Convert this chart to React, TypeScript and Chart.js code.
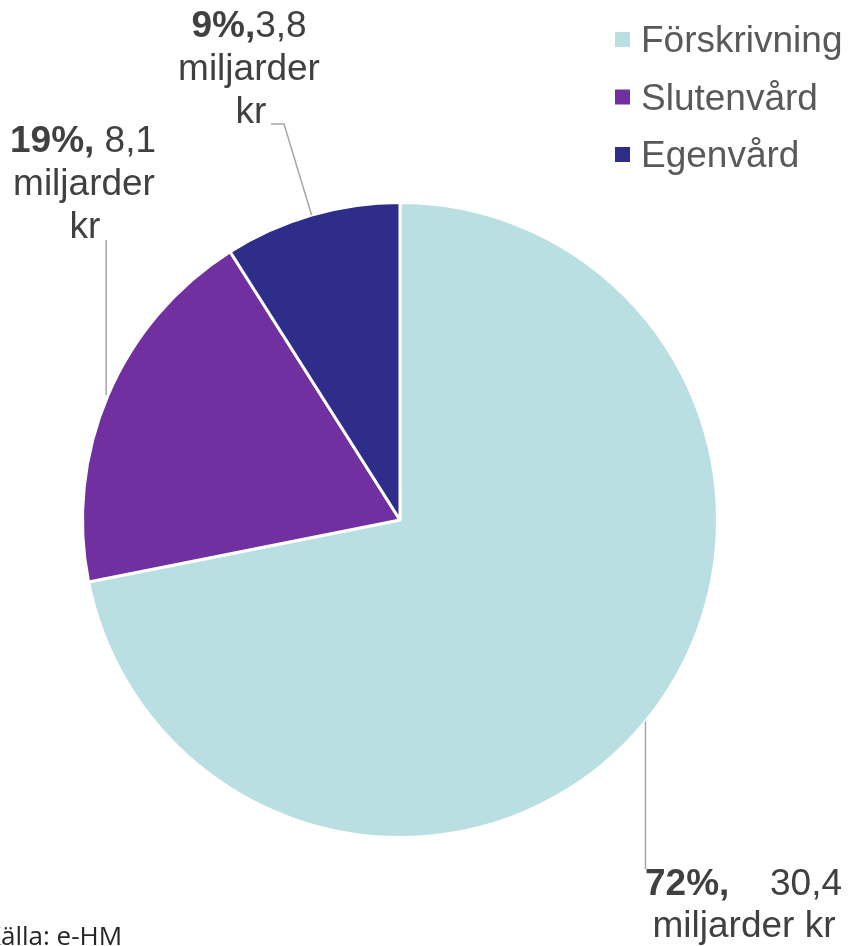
import React, { useEffect, useRef } from "react";
import { Chart, registerables } from "chart.js";

Chart.register(...registerables);

const categories = ["Förskrivning", "Slutenvård", "Egenvård"];
const valuesBn = [30.4, 8.1, 3.8];
const percents = [72, 19, 9];
const colors = ["#B9DFE2", "#7030A0", "#2E2E8A"];
const unitText = "miljarder kr";
const sourceText = "Källa: e-HM";

const FONT = 'Arial, "Liberation Sans", sans-serif';
const LABEL_COLOR = "#404040";
const LEGEND_COLOR = "#595959";
const LEADER_COLOR = "#A6A6A6";

const fmt = (v: number) => v.toFixed(1).replace(".", ",");

const overlayPlugin = {
  id: "overlay",
  afterDraw(chart: any) {
    const ctx: CanvasRenderingContext2D = chart.ctx;
    const meta = chart.getDatasetMeta(0);
    ctx.save();

    // Legend
    const legendBase = [52, 109.5, 167];
    ctx.font = `37px ${FONT}`;
    ctx.textBaseline = "alphabetic";
    ctx.textAlign = "left";
    categories.forEach((c, i) => {
      ctx.fillStyle = colors[i];
      ctx.fillRect(615, legendBase[i] - 20, 15, 15);
      ctx.fillStyle = LEGEND_COLOR;
      ctx.fillText(c, 641, legendBase[i]);
    });

    const edge = (i: number) => {
      const a: any = meta.data[i];
      const mid = (a.startAngle + a.endAngle) / 2;
      return { x: a.x + Math.cos(mid) * a.outerRadius, y: a.y + Math.sin(mid) * a.outerRadius };
    };

    ctx.strokeStyle = LEADER_COLOR;
    ctx.lineWidth = 1.5;
    let p = edge(0);
    ctx.beginPath();
    ctx.moveTo(p.x, p.y);
    ctx.lineTo(p.x, 869);
    ctx.stroke();
    p = edge(1);
    ctx.beginPath();
    ctx.moveTo(p.x - 2, p.y);
    ctx.lineTo(p.x - 2, 240);
    ctx.stroke();
    p = edge(2);
    ctx.beginPath();
    ctx.moveTo(p.x, p.y);
    ctx.lineTo(284, 124);
    ctx.lineTo(271, 124);
    ctx.stroke();

    const bold = `bold 37px ${FONT}`;
    const reg = `37px ${FONT}`;
    ctx.fillStyle = LABEL_COLOR;

    const centeredFirst = (b: string, r: string, cx: number, y: number) => {
      ctx.font = bold;
      const wb = ctx.measureText(b).width;
      ctx.font = reg;
      const wr = ctx.measureText(r).width;
      const x0 = cx - (wb + wr) / 2;
      ctx.textAlign = "left";
      ctx.font = bold;
      ctx.fillText(b, x0, y);
      ctx.font = reg;
      ctx.fillText(r, x0 + wb, y);
    };
    const words = unitText.split(" ");

    centeredFirst(`${percents[2]}%,`, fmt(valuesBn[2]), 249, 37);
    ctx.font = reg;
    ctx.textAlign = "center";
    ctx.fillText(words[0], 249, 80);
    ctx.fillText(words[1], 251, 123);

    centeredFirst(`${percents[1]}%,`, " " + fmt(valuesBn[1]), 83, 152);
    ctx.font = reg;
    ctx.textAlign = "center";
    ctx.fillText(words[0], 84, 195);
    ctx.fillText(words[1], 85, 238);

    ctx.font = bold;
    ctx.textAlign = "left";
    ctx.fillText(`${percents[0]}%,`, 645, 895);
    ctx.font = reg;
    ctx.textAlign = "right";
    ctx.fillText(fmt(valuesBn[0]), 842, 895);
    ctx.textAlign = "center";
    ctx.fillText(unitText, 744, 937);

    ctx.font = `26px "Open Sans", "Noto Sans", sans-serif`;
    ctx.textAlign = "left";
    ctx.fillStyle = "#262626";
    const kw = ctx.measureText("K").width;
    ctx.fillText(sourceText, -kw + 1, 945);

    ctx.restore();
  },
};

export default function App() {
  const ref = useRef<HTMLCanvasElement | null>(null);
  useEffect(() => {
    if (!ref.current) return;
    const chart = new Chart(ref.current, {
      type: "pie",
      data: {
        labels: categories,
        datasets: [
          {
            data: valuesBn,
            backgroundColor: colors,
            borderColor: "#ffffff",
            borderWidth: 3,
          },
        ],
      },
      options: {
        responsive: false,
        animation: false,
        devicePixelRatio: 1,
        layout: { padding: { left: 81, right: 129, top: 201, bottom: 107 } },
        plugins: {
          legend: { display: false },
          tooltip: { enabled: false },
        },
      },
      plugins: [overlayPlugin],
    });
    return () => chart.destroy();
  }, []);
  return (
    <div style={{ position: "absolute", left: 0, top: 0, width: 848, height: 946, background: "#fff" }}>
      <canvas ref={ref} width={848} height={946} style={{ display: "block" }} />
    </div>
  );
}
